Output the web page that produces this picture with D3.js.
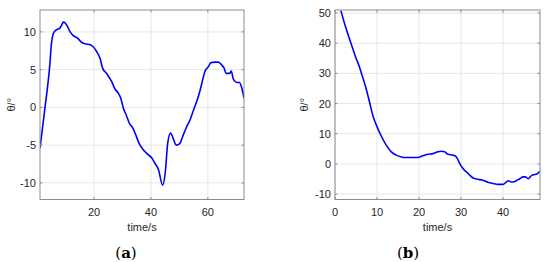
<!DOCTYPE html>
<html lang="en">
<head>
<meta charset="UTF-8">
<title>theta vs time</title>
<script src="https://d3js.org/d3.v7.min.js"></script>
<style>
    body { margin: 0; background: #fff; }
    svg { display: block; }
    .tick-label { font-family: "Liberation Sans", Arial, sans-serif; font-size: 11px; fill: #262626; }
    .axis-title { font-family: "Liberation Sans", Arial, sans-serif; font-size: 11px; fill: #262626; }
    .panel-label { font-family: "DejaVu Serif", "Liberation Serif", serif; font-size: 15px; fill: #000; }
</style>
</head>
<body>
<svg width="550" height="262"></svg>
<script>
// panel (a)
const timeA = [1, 2.8, 4.3, 5.1, 6.0, 7.4, 8.0, 8.6, 9.2, 9.8, 10.4, 11.6, 12.7, 14.1, 15.7, 17.2, 18.6, 19.5,
    20.9, 22.1, 23.0, 24.4, 26.2, 27.4, 28.5, 29.4, 30.3, 31.3, 32.4, 33.6, 34.4, 36.0, 37.3, 39.1, 40.3,
    41.4, 42.6, 44.1, 45.0, 45.9, 46.9, 47.7, 48.9, 50.1, 51.2, 52.4, 53.8, 55.0, 56.1, 57.3, 58.2, 59.0,
    60.2, 61.0, 62.5, 63.7, 64.9, 65.7, 66.4, 67.6, 68.2, 69.0, 70.2, 71.1, 71.9, 72.7];
const thetaA = [-5.4, 0.1, 5.0, 8.7, 10.0, 10.4, 10.5, 10.9, 11.3, 11.2, 10.9, 10.0, 9.5, 9.2, 8.6, 8.4, 8.3, 8.1,
    7.4, 6.5, 5.2, 4.5, 3.4, 2.4, 1.9, 1.2, -0.1, -1.0, -2.1, -2.7, -3.4, -4.9, -5.6, -6.3, -6.7,
    -7.4, -8.2, -10.3, -8.7, -4.7, -3.4, -4.0, -5.0, -4.8, -3.8, -2.7, -1.6, -0.3, 0.8, 2.3, 3.7, 4.8,
    5.4, 5.9, 6.0, 6.0, 5.6, 5.2, 4.5, 4.5, 4.8, 3.7, 3.3, 3.3, 2.6, 1.2];
const xTicksA = [20, 40, 60];
const yTicksA = [-10, -5, 0, 5, 10];

// panel (b)
const timeB = [1.4, 2.6, 3.8, 5.0, 5.8, 6.4, 7.4, 8.2, 9.1, 10.2, 11.1, 12.2, 13.4, 14.6, 15.8, 16.9, 18.1,
    19.7, 20.9, 22.1, 23.3, 24.5, 25.3, 26.1, 26.9, 28.1, 28.9, 29.7, 30.5, 31.7, 32.9, 34.0, 35.2, 36.4,
    37.6, 38.8, 40.0, 40.8, 41.2, 42.0, 42.8, 44.0, 44.8, 45.3, 46.0, 46.8, 47.6, 48.2, 48.8];
const thetaB = [50.8, 45, 40, 35, 32.2, 29.5, 25, 20.6, 15.6, 11.7, 9.0, 6.2, 4.0, 2.9, 2.3, 2.1, 2.1,
    2.1, 2.7, 3.2, 3.4, 4.0, 4.2, 4.0, 3.2, 2.9, 2.3, 0.1, -1.6, -3.2, -4.7, -5.1, -5.4, -6.1,
    -6.5, -6.8, -6.8, -6.0, -5.6, -6.0, -5.8, -4.9, -4.3, -4.3, -4.9, -3.8, -3.5, -3.2, -2.4];
const xTicksB = [0, 10, 20, 30, 40];
const yTicksB = [-10, 0, 10, 20, 30, 40, 50];

const svg = d3.select("svg");

function drawPanel(opt) {
    const x = d3.scaleLinear().domain(opt.xDomain).range([opt.left, opt.right]);
    const y = d3.scaleLinear().domain(opt.yDomain).range([opt.bottom, opt.top]);
    const g = svg.append("g");

    // grid
    g.selectAll(".gx").data(opt.xTicks).enter().append("line")
        .attr("x1", d => x(d)).attr("x2", d => x(d))
        .attr("y1", opt.top).attr("y2", opt.bottom)
        .attr("stroke", "#e6e6e6").attr("stroke-width", 1);
    g.selectAll(".gy").data(opt.yTicks).enter().append("line")
        .attr("x1", opt.left).attr("x2", opt.right)
        .attr("y1", d => y(d)).attr("y2", d => y(d))
        .attr("stroke", "#e6e6e6").attr("stroke-width", 1);

    // data line
    const clipId = "clip" + opt.name;
    svg.append("clipPath").attr("id", clipId).append("rect")
        .attr("x", opt.left).attr("y", opt.top)
        .attr("width", opt.right - opt.left).attr("height", opt.bottom - opt.top);
    const pts = opt.t.map((t, i) => [t, opt.v[i]]);
    g.append("path")
        .datum(pts)
        .attr("clip-path", `url(#${clipId})`)
        .attr("fill", "none")
        .attr("stroke", "#0000ff")
        .attr("stroke-width", 1.6)
        .attr("stroke-linejoin", "round")
        .attr("d", d3.line().x(d => x(d[0])).y(d => y(d[1])).curve(d3.curveMonotoneX));

    // box + inward ticks
    g.append("rect")
        .attr("x", opt.left).attr("y", opt.top)
        .attr("width", opt.right - opt.left).attr("height", opt.bottom - opt.top)
        .attr("fill", "none").attr("stroke", "#8c8c8c").attr("stroke-width", 1);
    const tl = 2.5;
    opt.xTicks.forEach(d => {
        g.append("line").attr("x1", x(d)).attr("x2", x(d)).attr("y1", opt.bottom).attr("y2", opt.bottom - tl).attr("stroke", "#8c8c8c");
        g.append("line").attr("x1", x(d)).attr("x2", x(d)).attr("y1", opt.top).attr("y2", opt.top + tl).attr("stroke", "#8c8c8c");
    });
    opt.yTicks.forEach(d => {
        g.append("line").attr("x1", opt.left).attr("x2", opt.left + tl).attr("y1", y(d)).attr("y2", y(d)).attr("stroke", "#8c8c8c");
        g.append("line").attr("x1", opt.right).attr("x2", opt.right - tl).attr("y1", y(d)).attr("y2", y(d)).attr("stroke", "#8c8c8c");
    });

    // tick labels
    g.selectAll(".xl").data(opt.xTicks).enter().append("text")
        .attr("class", "tick-label")
        .attr("x", d => x(d)).attr("y", opt.bottom + 16)
        .attr("text-anchor", "middle")
        .text(d => d);
    g.selectAll(".yl").data(opt.yTicks).enter().append("text")
        .attr("class", "tick-label")
        .attr("x", opt.left - 4).attr("y", d => y(d) + 4)
        .attr("text-anchor", "end")
        .text(d => d);

    // axis titles
    g.append("text").attr("class", "axis-title")
        .attr("x", (opt.left + opt.right) / 2).attr("y", opt.bottom + 31)
        .attr("text-anchor", "middle")
        .text("time/s");
    g.append("text").attr("class", "axis-title")
        .attr("transform", `translate(${opt.yTitleX},${(opt.top + opt.bottom) / 2}) rotate(-90)`)
        .attr("text-anchor", "middle")
        .text("θ/°");

    // panel label
    const lab = g.append("text").attr("class", "panel-label")
        .attr("x", opt.labelX).attr("y", 258)
        .attr("text-anchor", "middle");
    lab.append("tspan").text("(");
    lab.append("tspan").attr("font-weight", "bold").text(opt.name);
    lab.append("tspan").text(")");
}

drawPanel({
    name: "a", t: timeA, v: thetaA, xTicks: xTicksA, yTicks: yTicksA,
    xDomain: [1, 72.7], yDomain: [-12.2, 12.9],
    left: 40, right: 244, top: 10, bottom: 199.5, yTitleX: 15, labelX: 126
});
drawPanel({
    name: "b", t: timeB, v: thetaB, xTicks: xTicksB, yTicks: yTicksB,
    xDomain: [0, 48.8], yDomain: [-11.8, 51],
    left: 335, right: 540, top: 10, bottom: 199.5, yTitleX: 308, labelX: 408
});
</script>
</body>
</html>
